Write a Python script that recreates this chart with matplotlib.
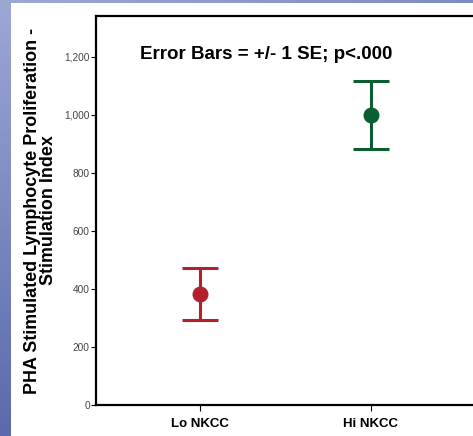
import matplotlib
matplotlib.use("Agg")
import matplotlib.pyplot as plt
import numpy as np
from matplotlib.colors import LinearSegmentedColormap

plt.rcParams['font.family'] = ['Liberation Sans', 'DejaVu Sans']

groups = ['Lo NKCC', 'Hi NKCC']
means = [382, 1000]
se = [90, 117]
colors = ['#b2202c', '#0b5e32']
yticks = [0, 200, 400, 600, 800, 1000, 1200]
ytick_labels = ['0', '200', '400', '600', '800', '1,000', '1,200']

W, H = 473, 436
fig = plt.figure(figsize=(W / 100, H / 100), dpi=100)
fig.patch.set_facecolor('white')

# slide style blue strips
left_cmap = LinearSegmentedColormap.from_list('l', ['#9ca8d4', '#5a6aac'])
sa = fig.add_axes([0, 0, 10 / W, 1])
sa.imshow(np.linspace(0, 1, 100).reshape(-1, 1), aspect='auto', cmap=left_cmap)
sa.axis('off')
top_cmap = LinearSegmentedColormap.from_list('t', ['#9ca8d4', '#7d8cc0'])
ta = fig.add_axes([0, 1 - 3 / H, 1, 3 / H])
ta.imshow(np.linspace(0, 1, 100).reshape(1, -1), aspect='auto', cmap=top_cmap)
ta.axis('off')

ax = fig.add_axes([96 / W, 31 / H, 382 / W, 389 / H])
x = np.arange(len(groups))
for i in range(len(groups)):
    ax.errorbar(x[i], means[i], yerr=se[i], fmt='o', color=colors[i],
                markersize=10.5, elinewidth=2.2, capsize=13, capthick=2.2)

ax.set_xlim(-0.608, 1.626)
ax.set_ylim(0, 1341)
ax.set_xticks(x)
ax.set_xticklabels(groups, fontsize=9.5, fontweight='bold')
ax.set_yticks(yticks)
ax.set_yticklabels(ytick_labels, fontsize=7.3, color='#444444')
ax.tick_params(axis='y', direction='out', length=3.5, width=0.8, pad=1)
ax.tick_params(axis='x', direction='out', length=4, width=0.8, pad=5)
for s in ['left', 'bottom', 'top']:
    ax.spines[s].set_linewidth(1.6)
ax.spines['right'].set_visible(False)

ax.set_ylabel('PHA Stimulated Lymphocyte Proliferation -\nStimulation Index',
              fontsize=12.9, fontweight='bold', linespacing=0.92, labelpad=5)
ax.text(0.445, 0.9, 'Error Bars = +/- 1 SE; p<.000', transform=ax.transAxes,
        ha='center', va='center', fontsize=13.5, fontweight='bold')

fig.savefig('out.png', dpi=100)
